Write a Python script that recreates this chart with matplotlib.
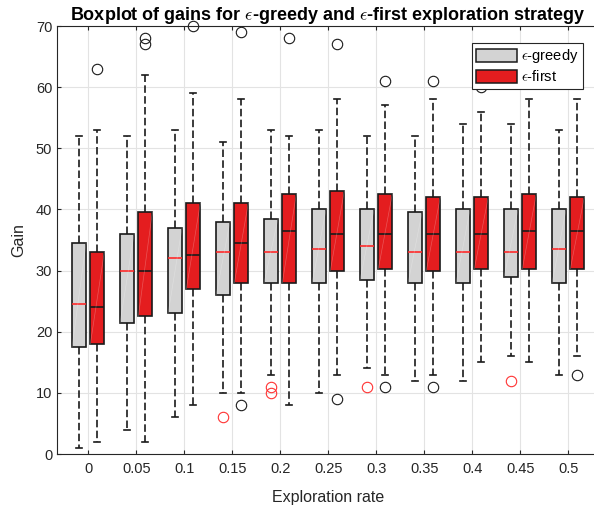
import matplotlib.pyplot as plt
from matplotlib.patches import Patch

plt.rcParams['font.family'] = ['Liberation Sans', 'DejaVu Sans']
plt.rcParams['mathtext.fontset'] = 'cm'

# taxas de exploracao (rotulos do eixo x)
taxas = ['0', '0.05', '0.1', '0.15', '0.2', '0.25', '0.3', '0.35', '0.4', '0.45', '0.5']

# epsilon-greedy
greedy_q1 = [17.5, 21.5, 23, 26, 28, 28, 28.5, 28, 28, 29, 28]
greedy_med = [24.5, 30, 32, 33, 33, 33.5, 34, 33, 33, 33, 33.5]
greedy_q3 = [34.5, 36, 37, 38, 38.5, 40, 40, 39.5, 40, 40, 40]
greedy_lo = [1, 4, 6, 10, 13, 10, 14, 12, 12, 16, 13]
greedy_hi = [52, 52, 53, 51, 53, 53, 52, 52, 54, 54, 53]
greedy_out = [[], [], [], [6], [11, 10], [], [11], [], [], [12], []]

# epsilon-first
first_q1 = [18, 22.5, 27, 28, 28, 30, 30.3, 30, 30.3, 30.3, 30.3]
first_med = [24, 30, 32.5, 34.5, 36.5, 36, 36, 36, 36, 36.5, 36.5]
first_q3 = [33, 39.5, 41, 41, 42.5, 43, 42.5, 42, 42, 42.5, 42]
first_lo = [2, 2, 8, 10, 8, 13, 13, 13, 15, 15, 16]
first_hi = [53, 62, 59, 58, 52, 58, 57, 58, 56, 58, 58]
first_out = [[63], [68, 67], [70], [69, 8], [68], [67, 9], [61, 11], [61, 11], [60], [], [13]]


def cria_stats(q1, med, q3, lo, hi, out):
    stats = []
    for i in range(len(q1)):
        stats.append({'q1': q1[i], 'med': med[i], 'q3': q3[i],
                      'whislo': lo[i], 'whishi': hi[i], 'fliers': out[i]})
    return stats


fig = plt.figure(figsize=(5.94, 5.11), dpi=100)
ax = fig.add_axes([57 / 594, 57 / 511, 542.4 / 594, 428 / 511])

n = len(taxas)
desl = 0.19
larg = 0.29
pos_g = [i - desl for i in range(n)]
pos_f = [i + desl for i in range(n)]
escuro = '#1a1a1a'
tracejado = (0, (4.5, 2))

ax.bxp(cria_stats(greedy_q1, greedy_med, greedy_q3, greedy_lo, greedy_hi, greedy_out),
       positions=pos_g, widths=larg, patch_artist=True, manage_ticks=False, capwidths=0.12,
       boxprops=dict(facecolor='#d3d3d3', edgecolor=escuro, linewidth=1.2),
       medianprops=dict(color='#ff2a2a', linewidth=1.2),
       whiskerprops=dict(color=escuro, linestyle=tracejado, linewidth=1.2),
       capprops=dict(color=escuro, linewidth=1.2),
       flierprops=dict(marker='o', markerfacecolor='none', markeredgecolor='#ff3333',
                       markersize=7.5, markeredgewidth=0.8, clip_on=False))

ax.bxp(cria_stats(first_q1, first_med, first_q3, first_lo, first_hi, first_out),
       positions=pos_f, widths=larg, patch_artist=True, manage_ticks=False, capwidths=0.12,
       boxprops=dict(facecolor='#e41d1f', edgecolor=escuro, linewidth=1.2),
       medianprops=dict(color=escuro, linewidth=1.2),
       whiskerprops=dict(color=escuro, linestyle=tracejado, linewidth=1.2),
       capprops=dict(color=escuro, linewidth=1.2),
       flierprops=dict(marker='o', markerfacecolor='none', markeredgecolor=escuro,
                       markersize=7.5, markeredgewidth=0.8, clip_on=False))

# linha diagonal clara dentro das caixas (artefato do patch)
for i in range(n):
    ax.plot([pos_g[i] - larg / 2, pos_g[i] + larg / 2], [greedy_q1[i], greedy_q3[i]],
            color='white', lw=0.5, alpha=0.25, zorder=2.1)
    ax.plot([pos_f[i] - larg / 2, pos_f[i] + larg / 2], [first_q1[i], first_q3[i]],
            color='white', lw=0.5, alpha=0.25, zorder=2.1)

ax.set_xlim(-0.65, n - 1 + 0.65)
ax.set_ylim(0, 70)
ax.set_xticks(range(n))
ax.set_xticklabels(taxas)
ax.set_yticks(range(0, 71, 10))
ax.tick_params(direction='in', length=3, labelsize=10.5, colors='#262626', top=True, right=True)
ax.tick_params(axis='x', pad=6)
ax.grid(True, color='#e3e3e3', linewidth=0.8)
ax.set_axisbelow(True)
for s in ax.spines.values():
    s.set_color('#262626')
    s.set_linewidth(0.8)

ax.set_xlabel('Exploration rate', fontsize=11.5, color='#262626', labelpad=10)
ax.set_ylabel('Gain', fontsize=11.5, color='#262626', labelpad=7)
ax.set_title(r'Boxplot of gains for $\epsilon$-greedy and $\epsilon$-first exploration strategy',
             fontsize=13, fontweight='bold', pad=4)

handles = [Patch(facecolor='#d3d3d3', edgecolor=escuro, linewidth=1.1, label=r'$\epsilon$-greedy'),
           Patch(facecolor='#e41d1f', edgecolor=escuro, linewidth=1.1, label=r'$\epsilon$-first')]
leg = ax.legend(handles=handles, loc='upper right', bbox_to_anchor=(0.970, 0.960),
                borderaxespad=0, fancybox=False, framealpha=1, edgecolor='#262626',
                fontsize=10.5, handlelength=2.8, handleheight=1.0, borderpad=0.3,
                labelspacing=0.25, handletextpad=0.3)
leg.get_frame().set_linewidth(0.8)
leg.set_zorder(10)

fig.savefig('out.png', dpi=100)
